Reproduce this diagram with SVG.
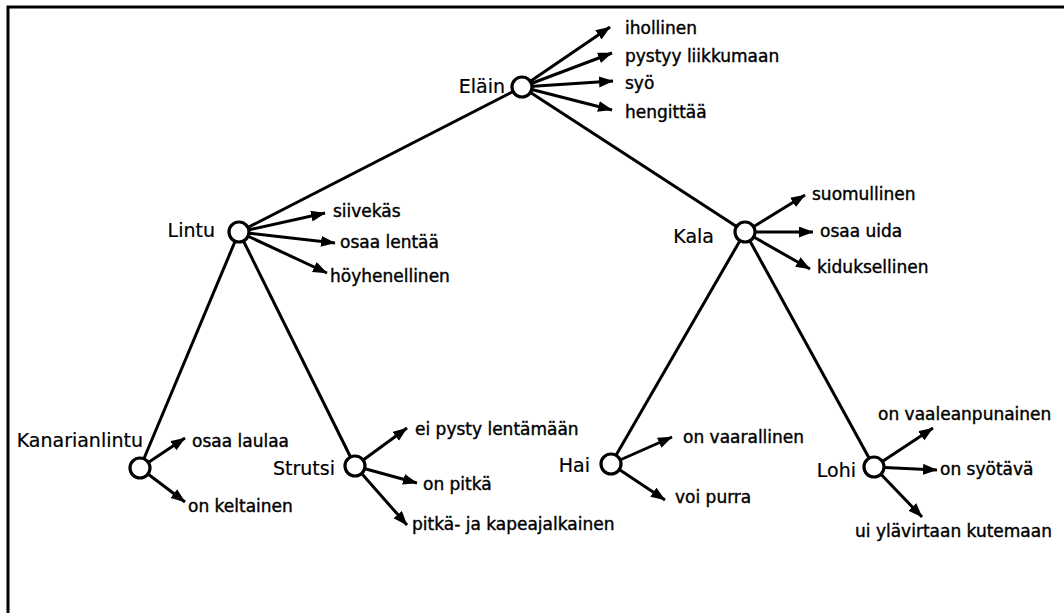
<svg xmlns="http://www.w3.org/2000/svg" width="1064" height="613" viewBox="0 0 1064 613">
<style>
.lbl{font-family:"DejaVu Sans","Liberation Sans",sans-serif;font-size:19px;fill:#000;stroke:#000;stroke-width:0.2;text-anchor:end}
.att{font-family:"DejaVu Sans","Liberation Sans",sans-serif;font-size:17px;fill:#000;stroke:#000;stroke-width:0.4}
.edge{stroke:#000;stroke-width:3;fill:none}
.arr{stroke:#000;stroke-width:3;fill:none;marker-end:url(#ah)}
.node{fill:#fff;stroke:#000;stroke-width:3.2}
</style>
<defs>
<marker id="ah" markerUnits="userSpaceOnUse" markerWidth="16" markerHeight="12" refX="14" refY="5.5" orient="auto">
<path d="M0,0 L14.5,5.5 L0,11 z" fill="#000"/>
</marker>
</defs>
<rect width="1064" height="613" fill="#fff"/>
<path d="M1064,7 L8,7 L8,613" fill="none" stroke="#000" stroke-width="3"/>
<g id="connectors">
<line class="edge" x1="522" y1="87" x2="239" y2="232"/>
<line class="edge" x1="522" y1="87" x2="745" y2="232"/>
<line class="edge" x1="239" y1="232" x2="140" y2="468"/>
<line class="edge" x1="239" y1="232" x2="355" y2="466"/>
<line class="edge" x1="745" y1="232" x2="611" y2="464"/>
<line class="edge" x1="745" y1="232" x2="874" y2="467"/>
<line class="arr" x1="522" y1="87" x2="610" y2="27"/>
<line class="arr" x1="522" y1="87" x2="612" y2="53"/>
<line class="arr" x1="522" y1="87" x2="613" y2="81"/>
<line class="arr" x1="522" y1="87" x2="612" y2="110"/>
<line class="arr" x1="239" y1="232" x2="325" y2="213"/>
<line class="arr" x1="239" y1="232" x2="335" y2="243"/>
<line class="arr" x1="239" y1="232" x2="327" y2="273"/>
<line class="arr" x1="745" y1="232" x2="805" y2="195"/>
<line class="arr" x1="745" y1="232" x2="813" y2="232"/>
<line class="arr" x1="745" y1="232" x2="810" y2="269"/>
<line class="arr" x1="140" y1="468" x2="185" y2="438"/>
<line class="arr" x1="140" y1="468" x2="185" y2="502"/>
<line class="arr" x1="355" y1="466" x2="407" y2="428"/>
<line class="arr" x1="355" y1="466" x2="417" y2="483"/>
<line class="arr" x1="355" y1="466" x2="407" y2="525"/>
<line class="arr" x1="611" y1="464" x2="672" y2="437"/>
<line class="arr" x1="611" y1="464" x2="665" y2="500"/>
<line class="arr" x1="874" y1="467" x2="933" y2="428"/>
<line class="arr" x1="874" y1="467" x2="937" y2="470"/>
<line class="arr" x1="874" y1="467" x2="922" y2="517"/>
</g>
<g id="elain">
<circle class="node" cx="522" cy="87" r="10"/>
<text class="lbl" x="505" y="93">Eläin</text>
<text class="att" x="625" y="34">ihollinen</text>
<text class="att" x="625" y="62">pystyy liikkumaan</text>
<text class="att" x="625" y="89">syö</text>
<text class="att" x="625" y="118">hengittää</text>
</g>
<g id="lintu">
<circle class="node" cx="239" cy="232" r="10"/>
<text class="lbl" x="215" y="237">Lintu</text>
<text class="att" x="333" y="217">siivekäs</text>
<text class="att" x="340" y="248">osaa lentää</text>
<text class="att" x="330" y="282">höyhenellinen</text>
</g>
<g id="kala">
<circle class="node" cx="745" cy="232" r="10"/>
<text class="lbl" x="714" y="243">Kala</text>
<text class="att" x="812" y="200">suomullinen</text>
<text class="att" x="820" y="237">osaa uida</text>
<text class="att" x="817" y="273">kiduksellinen</text>
</g>
<g id="kanarianlintu">
<circle class="node" cx="140" cy="468" r="10"/>
<text class="lbl" x="143" y="447">Kanarianlintu</text>
<text class="att" x="192" y="447">osaa laulaa</text>
<text class="att" x="188" y="512">on keltainen</text>
</g>
<g id="strutsi">
<circle class="node" cx="355" cy="466" r="10"/>
<text class="lbl" x="335" y="475">Strutsi</text>
<text class="att" x="415" y="435">ei pysty lentämään</text>
<text class="att" x="423" y="490">on pitkä</text>
<text class="att" x="412" y="530">pitkä- ja kapeajalkainen</text>
</g>
<g id="hai">
<circle class="node" cx="611" cy="464" r="10"/>
<text class="lbl" x="590" y="472">Hai</text>
<text class="att" x="683" y="443">on vaarallinen</text>
<text class="att" x="675" y="503">voi purra</text>
</g>
<g id="lohi">
<circle class="node" cx="874" cy="467" r="10"/>
<text class="lbl" x="856" y="477">Lohi</text>
<text class="att" x="878" y="420">on vaaleanpunainen</text>
<text class="att" x="940" y="475">on syötävä</text>
<text class="att" x="855" y="537">ui ylävirtaan kutemaan</text>
</g>
</svg>
